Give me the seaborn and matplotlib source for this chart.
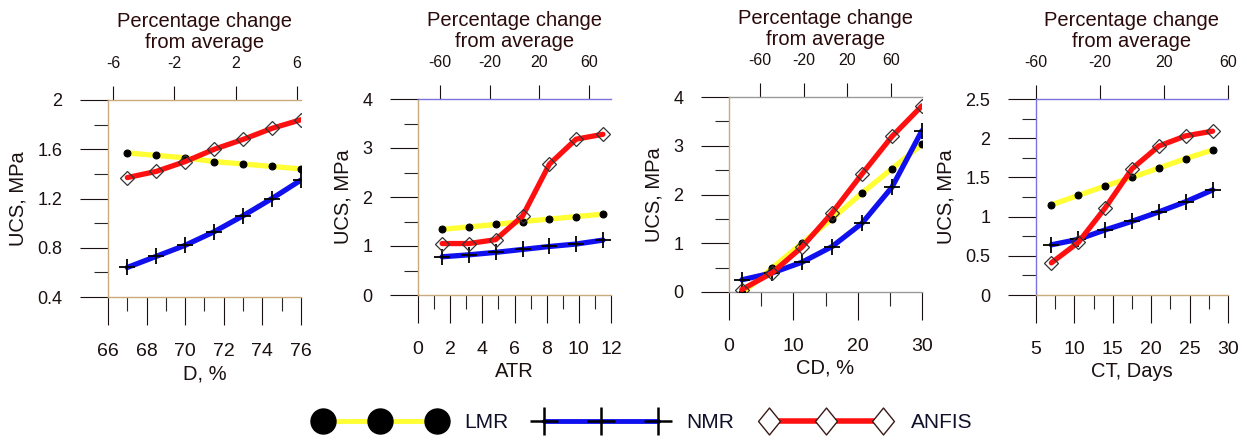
import matplotlib
matplotlib.use("Agg")
import matplotlib.pyplot as plt
import seaborn as sns
from matplotlib.lines import Line2D
from matplotlib.path import Path

# ---------------- data ----------------
d_x = [67, 68.5, 70, 71.5, 73, 74.5, 76]
d_lmr = [1.57, 1.55, 1.53, 1.50, 1.48, 1.46, 1.44]
d_nmr = [0.64, 0.73, 0.82, 0.93, 1.06, 1.20, 1.35]
d_anfis = [1.37, 1.42, 1.50, 1.60, 1.68, 1.77, 1.84]

atr_x = [1.5, 3.17, 4.83, 6.5, 8.17, 9.83, 11.5]
atr_lmr = [1.34, 1.39, 1.44, 1.50, 1.55, 1.60, 1.65]
atr_nmr = [0.78, 0.82, 0.87, 0.93, 0.99, 1.04, 1.12]
atr_anfis = [1.05, 1.05, 1.13, 1.61, 2.67, 3.18, 3.28]

cd_x = [2, 6.67, 11.33, 16, 20.67, 25.33, 30]
cd_lmr = [-0.03, 0.49, 1.00, 1.50, 2.03, 2.53, 3.03]
cd_nmr = [0.25, 0.39, 0.61, 0.93, 1.41, 2.15, 3.31]
cd_anfis = [0.05, 0.39, 0.92, 1.62, 2.42, 3.19, 3.82]

ct_x = [7, 10.5, 14, 17.5, 21, 24.5, 28]
ct_lmr = [1.15, 1.27, 1.39, 1.50, 1.62, 1.74, 1.85]
ct_nmr = [0.64, 0.71, 0.83, 0.94, 1.06, 1.19, 1.34]
ct_anfis = [0.41, 0.67, 1.11, 1.61, 1.90, 2.03, 2.09]

x_labels = ["D, %", "ATR", "CD, %", "CT, Days"]
y_label = "UCS, MPa"
top_label = "Percentage change\nfrom average"
series_names = ["LMR", "NMR", "ANFIS"]

# axis scales per panel
x_lims = [(66, 76), (0, 12), (0, 30), (5, 30)]
x_major = [[66, 68, 70, 72, 74, 76], [0, 2, 4, 6, 8, 10, 12], [0, 10, 20, 30],
           [5, 10, 15, 20, 25, 30]]
x_minor = [[67, 69, 71, 73, 75], [1, 3, 5, 7, 9, 11], [5, 15, 25],
           [7.5, 12.5, 17.5, 22.5, 27.5]]
y_lims = [(0.4, 2.0), (0, 4), (0, 4), (0, 2.5)]
y_major = [[0.4, 0.8, 1.2, 1.6, 2.0], [0, 1, 2, 3, 4], [0, 1, 2, 3, 4],
           [0, 0.5, 1, 1.5, 2, 2.5]]
y_minor = [[0.6, 1.0, 1.4, 1.8], [0.5, 1.5, 2.5, 3.5], [0.5, 1.5, 2.5, 3.5],
           [0.25, 0.75, 1.25, 1.75, 2.25]]
top_lims = [(-6.33, 6.26), (-77.7, 77.7), (-88.4, 88.4), (-60, 60)]
top_ticks = [[-6, -2, 2, 6], [-60, -20, 20, 60], [-60, -20, 20, 60], [-60, -20, 20, 60]]

panels = [
    (d_x, d_lmr, d_nmr, d_anfis),
    (atr_x, atr_lmr, atr_nmr, atr_anfis),
    (cd_x, cd_lmr, cd_nmr, cd_anfis),
    (ct_x, ct_lmr, ct_nmr, ct_anfis),
]

# ---------------- styling ----------------
sns.set_theme(style="white")
plt.rcParams["font.family"] = ["Liberation Sans", "DejaVu Sans"]

W, H = 1247, 441
positions = [
    (108 / W, (H - 297) / H, 193 / W, 197 / H),
    (418 / W, (H - 295) / H, 193 / W, 196 / H),
    (729 / W, (H - 292) / H, 193 / W, 195 / H),
    (1036 / W, (H - 295) / H, 192 / W, 196 / H),
]

pal = {"t": "#c8aa7d", "g": "#9a9a9a", "b": "#7b74e0", "k": "#555555"}
# spine colours (left, bottom, top) and tick colours (ascending order)
spine_cols = ["ttt", "ttb", "tgg", "btb"]
ymaj_cols = ["tbttt", "ttgtb", "gtbtg", "tbbbbb"]
ymin_cols = ["gggb", "gtbt", "bttb", "tkkkk"]
xmaj_cols = ["tktbtg", "tttgtbt", "tttk", "btgttk"]
xmin_cols = ["gkttg", "ktttgg", "kbg", "tktkt"]
top_cols = ["tkbk", "ttbt", "kkkk", "bktt"]

text_col = "#1a1010"
fmt = lambda v: f"{v:g}"

fig = plt.figure(figsize=(W / 100, H / 100), dpi=100)

for i, (xs, lmr, nmr, anfis) in enumerate(panels):
    ax = fig.add_axes(positions[i])
    ax.set_facecolor("white")

    sns.lineplot(x=xs, y=lmr, ax=ax, color="#ffff33", linewidth=3.8, marker="o",
                 markersize=5, markerfacecolor="black", markeredgecolor="black",
                 zorder=3)
    sns.lineplot(x=xs, y=nmr, ax=ax, color="#1010ee", linewidth=3.8, marker="+",
                 markersize=12, markeredgecolor="black", markeredgewidth=1.3,
                 zorder=4)
    sns.lineplot(x=xs, y=anfis, ax=ax, color="#ff1010", linewidth=3.8, marker="D",
                 markersize=7.2, markerfacecolor="none", markeredgecolor="#333333",
                 markeredgewidth=0.9, zorder=5)

    ax.set_xlim(*x_lims[i])
    ax.set_ylim(*y_lims[i])
    ax.set_xticks(x_major[i])
    ax.set_xticks(x_minor[i], minor=True)
    ax.set_yticks(y_major[i])
    ax.set_yticks(y_minor[i], minor=True)
    ax.set_xticklabels([fmt(v) for v in x_major[i]])
    ax.set_yticklabels([fmt(v) for v in y_major[i]])

    ax.tick_params(axis="both", which="major", direction="out", length=20,
                   width=0.8, pad=13, colors=text_col)
    ax.tick_params(axis="both", which="minor", direction="out", length=10,
                   width=0.8)
    ax.tick_params(axis="x", which="major", labelsize=14, bottom=True)
    ax.tick_params(axis="x", which="minor", bottom=True)
    ax.tick_params(axis="y", which="major", labelsize=13, left=True)
    ax.tick_params(axis="y", which="minor", left=True)

    for t, c in zip(ax.yaxis.get_major_ticks(), ymaj_cols[i]):
        t.tick1line.set_color(pal[c])
    for t, c in zip(ax.yaxis.get_minor_ticks(), ymin_cols[i]):
        t.tick1line.set_color(pal[c])
    for t, c in zip(ax.xaxis.get_major_ticks(), xmaj_cols[i]):
        t.tick1line.set_color(pal[c])
    for t, c in zip(ax.xaxis.get_minor_ticks(), xmin_cols[i]):
        t.tick1line.set_color(pal[c])

    sc = spine_cols[i]
    ax.spines["left"].set_color(pal[sc[0]])
    ax.spines["bottom"].set_color(pal[sc[1]])
    for s in ["left", "bottom"]:
        ax.spines[s].set_linewidth(1.0)
    ax.spines["right"].set_visible(False)
    ax.spines["top"].set_visible(False)

    ax.set_xlabel(x_labels[i], fontsize=14.5, color=text_col, labelpad=3)
    ax.set_ylabel(y_label, fontsize=14.5, color=text_col, labelpad=7)

    # top axis: percentage change from average
    ax2 = ax.twiny()
    ax2.set_xlim(*top_lims[i])
    ax2.set_xticks(top_ticks[i])
    ax2.set_xticklabels([fmt(v) for v in top_ticks[i]])
    ax2.tick_params(axis="x", which="major", direction="out", length=10,
                    width=0.8, pad=11, labelsize=11.5, colors=text_col)
    for t, c in zip(ax2.xaxis.get_major_ticks(), top_cols[i]):
        t.tick2line.set_color(pal[c])
    for s in ["left", "right", "bottom"]:
        ax2.spines[s].set_visible(False)
    ax2.spines["top"].set_color(pal[sc[2]])
    ax2.spines["top"].set_linewidth(1.0)
    ax2.set_xlabel(top_label, fontsize=14.5, color="#2a0a0a", labelpad=6,
                   linespacing=1.12)

# ---------------- legend ----------------
tall_diamond = Path([(0, 1.23), (1, 0), (0, -1.23), (-1, 0), (0, 1.23)],
                    [Path.MOVETO, Path.LINETO, Path.LINETO, Path.LINETO, Path.CLOSEPOLY])
handles = [
    Line2D([], [], color="#ffff33", linewidth=3.5, marker="o", markersize=18,
           markerfacecolor="black", markeredgecolor="black"),
    Line2D([], [], color="#1010ee", linewidth=3.5, marker="+", markersize=20,
           markeredgecolor="black", markeredgewidth=1.8),
    Line2D([], [], color="#ff1010", linewidth=4, marker=tall_diamond, markersize=19.4,
           markerfacecolor="white", markeredgecolor="#3a1a1a", markeredgewidth=1.0),
]
leg = fig.legend(handles, series_names, loc="center", bbox_to_anchor=(0.517, 0.041),
                 ncol=3, frameon=False, numpoints=3, handlelength=6.05,
                 handletextpad=1.05, columnspacing=1.4, fontsize=15)
for t in leg.get_texts():
    t.set_color("#10102a")

fig.savefig("out.png", dpi=100)
